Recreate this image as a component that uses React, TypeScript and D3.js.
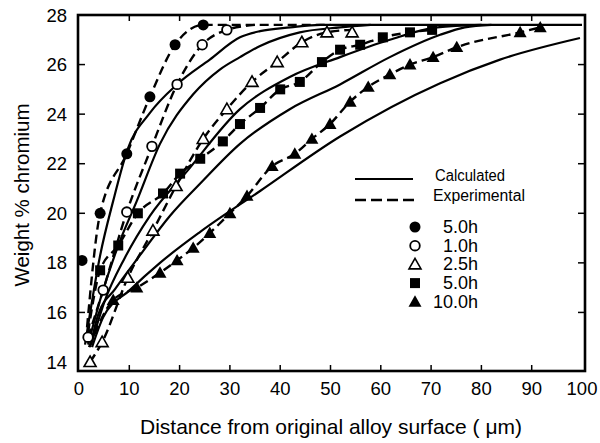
import React from "react";
import * as d3 from "d3";

type P = [number, number];

// Experimental data (markers)
const expFilledCircle: P[] = [[0.6,18.1],[4.2,20.0],[9.5,22.4],[14.1,24.7],[19.1,26.8],[24.7,27.6]];
const expOpenCircle: P[] = [[1.8,15.0],[4.8,16.9],[9.5,20.05],[14.5,22.7],[19.5,25.2],[24.5,26.8],[29.4,27.4]];
const expOpenTriangle: P[] = [[2.2,14.0],[4.6,14.8],[9.7,17.4],[14.7,19.3],[19.3,21.1],[24.7,23.0],[29.4,24.2],[34.4,25.3],[39.4,26.1],[44.3,26.9],[49.3,27.3],[54.3,27.3]];
const expSquare: P[] = [[4.2,17.7],[7.8,18.7],[11.7,20.0],[16.7,20.8],[20.1,21.6],[24.1,22.2],[28.6,22.9],[32.0,23.6],[36.0,24.25],[40.0,25.0],[43.9,25.3],[48.3,26.1],[51.9,26.6],[55.9,26.8],[60.4,27.1],[65.8,27.3],[70.2,27.4]];
const expFilledTriangle: P[] = [[6.8,16.5],[11.5,17.0],[16.1,17.6],[19.5,18.1],[22.7,18.6],[26.0,19.2],[30.0,20.0],[33.4,20.7],[38.4,21.9],[42.9,22.4],[46.3,23.0],[49.9,23.6],[53.9,24.5],[57.5,25.1],[61.8,25.6],[65.8,26.0],[70.4,26.3],[75.1,26.7],[87.7,27.3],[91.7,27.5]];

// Experimental dashed curves (start points at the surface)
const dashFilledCircle: P[] = [[1.6,15.4],[4.2,20.0],[9.5,22.4],[14.1,24.7],[19.1,26.8],[24.7,27.6],[50,27.6]];
const dashOpenCircle: P[] = [[1.8,15.0],[4.8,16.9],[9.5,20.05],[14.5,22.7],[19.5,25.2],[24.5,26.8],[29.4,27.4],[35,27.6]];
const dashOpenTriangle: P[] = [[2.2,14.0],[4.6,14.8],[9.7,17.4],[14.7,19.3],[19.3,21.1],[24.7,23.0],[29.4,24.2],[34.4,25.3],[39.4,26.1],[44.3,26.9],[49.3,27.3],[54.3,27.4]];
const dashSquare: P[] = [[1.8,15.2],[4.2,17.7],[7.8,18.7],[11.7,20.0],[16.7,20.8],[20.1,21.6],[24.1,22.2],[28.6,22.9],[32.0,23.6],[36.0,24.25],[40.0,25.0],[43.9,25.3],[48.3,26.1],[51.9,26.6],[55.9,26.8],[60.4,27.1],[65.8,27.3],[70.2,27.4]];
const dashFilledTriangle: P[] = [[2.0,14.6],[6.8,16.5],[11.5,17.0],[16.1,17.6],[19.5,18.1],[22.7,18.6],[26.0,19.2],[30.0,20.0],[33.4,20.7],[38.4,21.9],[42.9,22.4],[46.3,23.0],[49.9,23.6],[53.9,24.5],[57.5,25.1],[61.8,25.6],[65.8,26.0],[70.4,26.3],[75.1,26.7],[87.7,27.3],[91.7,27.5]];

// Calculated curves
const calc1: P[] = [[1.2,14.7],[4.2,18.3],[6.8,20.5],[9.7,22.6],[14.1,24.05],[19.5,25.2],[26.0,26.2],[32.0,27.1],[36,27.35],[42,27.5],[48,27.6],[100,27.6]];
const calc2: P[] = [[1.8,14.7],[4.2,16.5],[7.8,18.7],[11.5,20.5],[16.1,22.8],[22.7,24.8],[28.0,25.8],[32.0,26.3],[36.0,26.75],[43.9,27.3],[51.9,27.5],[58,27.6]];
const calc3: P[] = [[2.4,14.7],[5.0,16.4],[9.1,18.2],[14.1,19.9],[21.5,21.7],[32.0,24.2],[41.9,25.5],[51.9,26.3],[61.8,27.0],[71.2,27.5],[80,27.6]];
const calc4: P[] = [[2.2,14.6],[3.8,15.9],[7.2,16.95],[12.1,18.3],[18.1,19.9],[24.1,21.2],[32.0,22.8],[41.9,24.2],[51.9,25.2],[61.8,26.3],[71.8,27.2],[76.7,27.5],[82,27.6]];
const calc5: P[] = [[2.6,14.6],[4.8,15.8],[10.1,16.9],[16.1,18.0],[24.1,19.25],[36.0,20.9],[51.9,23.1],[71.8,25.25],[83.7,26.2],[99.6,27.07]];

const xTicks = [0,10,20,30,40,50,60,70,80,90,100];
const yTicks = [14,16,18,20,22,24,26,28];
const legendTimes = ["5.0h","1.0h","2.5h","5.0h","10.0h"];
const legendShapes = ["fcircle","ocircle","otri","square","ftri"];

const FONT = "'Liberation Sans', Arial, sans-serif";

function Marker({ shape, cx, cy }: { shape: string; cx: number; cy: number }) {
  if (shape === "fcircle") return <circle cx={cx} cy={cy} r={5.5} fill="#000" />;
  if (shape === "ocircle") return <circle cx={cx} cy={cy} r={4.8} fill="#fff" stroke="#000" strokeWidth={1.8} />;
  if (shape === "otri") {
    const s = 6;
    return <path d={`M${cx},${cy - s}L${cx + s},${cy + s * 0.75}L${cx - s},${cy + s * 0.75}Z`} fill="#fff" stroke="#000" strokeWidth={1.6} />;
  }
  if (shape === "ftri") {
    const s = 6.5;
    return <path d={`M${cx},${cy - s}L${cx + s},${cy + s * 0.75}L${cx - s},${cy + s * 0.75}Z`} fill="#000" />;
  }
  return <rect x={cx - 5} y={cy - 5} width={10} height={10} fill="#000" />;
}

export default function App() {
  const W = 600, H = 443;
  const x = d3.scaleLinear().domain([0, 100]).range([79, 582]);
  const y = d3.scaleLinear().domain([14, 28]).range([362, 15]);
  const frame = { l: 78, r: 585, t: 15, b: 371 };
  const line = d3.line<P>().x(d => x(d[0])).y(d => y(d[1])).curve(d3.curveMonotoneX);

  const calcs = [calc1, calc2, calc3, calc4, calc5];
  const dashes = [dashFilledCircle, dashOpenCircle, dashOpenTriangle, dashSquare, dashFilledTriangle];
  const exps: [P[], string][] = [
    [expFilledCircle, "fcircle"],
    [expOpenCircle, "ocircle"],
    [expOpenTriangle, "otri"],
    [expSquare, "square"],
    [expFilledTriangle, "ftri"],
  ];

  return (
    <div style={{ position: "absolute", left: 0, top: 0, width: W, height: H }}>
      <svg width={W} height={H} style={{ display: "block" }} fontFamily={FONT}>
        <rect width={W} height={H} fill="#fff" />
        <defs>
          <clipPath id="plot">
            <rect x={frame.l} y={frame.t} width={frame.r - frame.l} height={frame.b - frame.t} />
          </clipPath>
        </defs>
        <g clipPath="url(#plot)">
          {calcs.map((c, i) => (
            <path key={"c" + i} d={line(c) || ""} fill="none" stroke="#000" strokeWidth={2.2} />
          ))}
          {dashes.map((c, i) => (
            <path key={"d" + i} d={line(c) || ""} fill="none" stroke="#000" strokeWidth={2.4} strokeDasharray="9,5" />
          ))}
          {exps.map(([pts, shape], i) =>
            pts.map((p, j) => <Marker key={i + "-" + j} shape={shape} cx={x(p[0])} cy={y(p[1])} />)
          )}
        </g>
        <rect x={frame.l} y={frame.t} width={frame.r - frame.l} height={frame.b - frame.t} fill="none" stroke="#000" strokeWidth={2.6} />
        {xTicks.slice(1, -1).map(t => (
          <g key={"xt" + t}>
            <line x1={x(t)} x2={x(t)} y1={frame.b} y2={frame.b - 6} stroke="#000" strokeWidth={1.5} />
            <line x1={x(t)} x2={x(t)} y1={frame.t} y2={frame.t + 6} stroke="#000" strokeWidth={1.5} />
          </g>
        ))}
        {yTicks.slice(1, -1).map(t => (
          <g key={"yt" + t}>
            <line x1={frame.l} x2={frame.l + 7} y1={y(t)} y2={y(t)} stroke="#000" strokeWidth={1.5} />
            <line x1={frame.r} x2={frame.r - 7} y1={y(t)} y2={y(t)} stroke="#000" strokeWidth={1.5} />
          </g>
        ))}
        {xTicks.map(t => (
          <text key={"xl" + t} x={x(t)} y={395} textAnchor="middle" fontSize={18.5}>{t}</text>
        ))}
        {yTicks.map(t => (
          <text key={"yl" + t} x={67} y={y(t) + 6.5} textAnchor="end" fontSize={18.5}>{t}</text>
        ))}
        <text x={331} y={434} textAnchor="middle" fontSize={21}>Distance from original alloy surface ( μm)</text>
        <text transform={`translate(29,195) rotate(-90)`} textAnchor="middle" fontSize={20.5}>Weight % chromium</text>
        <line x1={355} x2={413} y1={179} y2={179} stroke="#000" strokeWidth={2} />
        <line x1={355} x2={415} y1={200} y2={200} stroke="#000" strokeWidth={2.4} strokeDasharray="11,5" />
        <text x={435} y={181} fontSize={16} textLength={70} lengthAdjust="spacingAndGlyphs">Calculated</text>
        <text x={433} y={201} fontSize={16} textLength={92} lengthAdjust="spacingAndGlyphs">Experimental</text>
        {legendShapes.map((s, i) => (
          <g key={"lg" + i}>
            <Marker shape={s} cx={415} cy={227 + i * 18.7} />
            <text x={478} y={227 + i * 18.7 + 6} textAnchor="end" fontSize={18}>{legendTimes[i]}</text>
          </g>
        ))}
      </svg>
    </div>
  );
}
